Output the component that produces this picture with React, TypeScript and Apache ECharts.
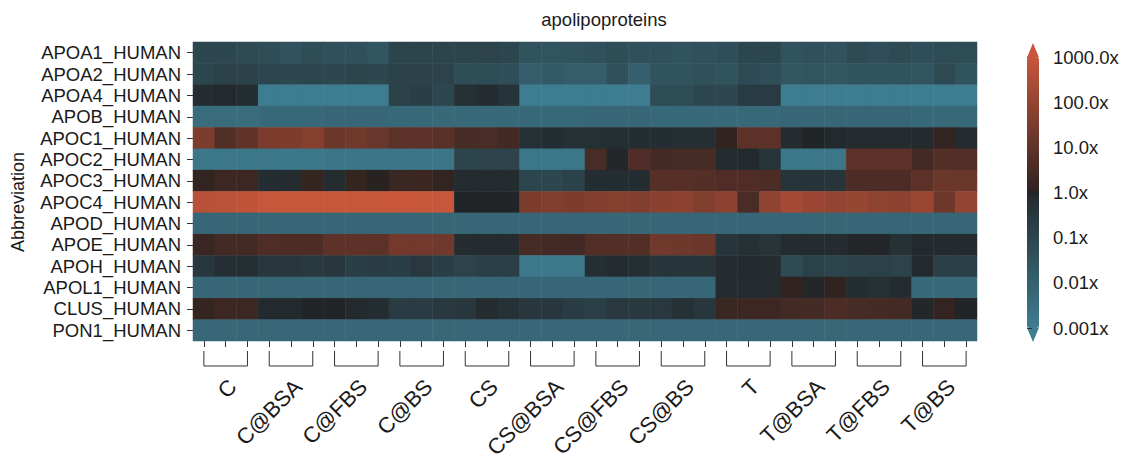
import React, { useEffect, useRef } from "react";
import * as echarts from "echarts";

// ---------- data ----------
const groups = ["C", "C@BSA", "C@FBS", "C@BS", "CS", "CS@BSA", "CS@FBS", "CS@BS", "T", "T@BSA", "T@FBS", "T@BS"];
const replicates = ["1", "2", "3"];
const columns = groups.flatMap((g) => replicates.map((r) => `${g}_${r}`));

const proteins = [
  "APOA1_HUMAN", "APOA2_HUMAN", "APOA4_HUMAN", "APOB_HUMAN", "APOC1_HUMAN", "APOC2_HUMAN", "APOC3_HUMAN",
  "APOC4_HUMAN", "APOD_HUMAN", "APOE_HUMAN", "APOH_HUMAN", "APOL1_HUMAN", "CLUS_HUMAN", "PON1_HUMAN",
];

// log10 fold change, one value per column (12 groups x 3 replicates)
const APOA1 = [-1.1, -1.1, -1.2, -1.3, -1.5, -1.3, -1.4, -1.45, -1.6, -1.0, -1.0, -1.0, -1.0, -0.95, -1.05, -1.5, -1.55, -1.5, -1.4, -1.3, -1.4, -1.4, -1.5, -1.45, -1.35, -1.05, -1.05, -1.5, -1.4, -1.5, -1.2, -1.35, -1.2, -1.35, -1.25, -1.25];
const APOA2 = [-1.05, -0.85, -0.9, -1.05, -1.1, -1.05, -1.1, -1.0, -1.1, -0.9, -0.9, -0.95, -1.3, -1.25, -1.35, -1.85, -1.75, -1.85, -1.85, -1.4, -1.95, -1.5, -1.5, -1.45, -1.5, -1.2, -1.35, -1.65, -1.55, -1.65, -1.5, -1.5, -1.5, -1.55, -1.15, -1.5];
const APOA4 = [-0.15, -0.05, -0.15, -3, -3, -3, -3, -3, -3, -0.9, -0.75, -1.1, -0.25, -0.1, -0.35, -3, -3, -3, -3, -3, -3, -1.25, -1.3, -1.1, -1.1, -0.65, -0.65, -3, -3, -3, -3, -3, -3, -3, -3, -3];
const APOB = [-2.45, -2.45, -2.45, -2.3, -2.3, -2.3, -2.25, -2.25, -2.25, -2.3, -2.3, -2.3, -2.3, -2.3, -2.3, -2.3, -2.3, -2.3, -2.25, -2.25, -2.25, -2.3, -2.3, -2.3, -2.3, -2.3, -2.3, -2.25, -2.25, -2.25, -2.25, -2.25, -2.25, -2.3, -2.3, -2.3];
const APOC1 = [1.55, 0.7, 1.0, 1.5, 1.55, 1.7, 1.2, 1.3, 1.15, 0.9, 0.9, 0.85, 0.5, 0.55, 0.4, -0.25, -0.15, -0.3, -0.25, -0.2, -0.15, -0.15, -0.2, -0.2, 0.05, 0.9, 0.9, -0.1, -0.02, -0.05, -0.12, -0.12, -0.12, -0.07, 0.1, -0.1];
const APOC2 = [-2.8, -2.8, -2.8, -2.8, -2.8, -2.8, -2.75, -2.75, -2.75, -2.75, -2.75, -2.75, -1.0, -0.95, -0.95, -2.8, -2.8, -2.8, 0.55, -0.03, 0.65, 0.45, 0.5, 0.5, -0.1, -0.05, -0.4, -2.8, -2.8, -2.8, 0.9, 0.9, 0.9, 0.45, 0.75, 0.7];
const APOC3 = [0.1, 0.28, 0.28, -0.15, -0.1, 0.15, -0.12, 0.15, 0.02, 0.25, 0.27, 0.08, -0.12, -0.1, -0.12, -1.05, -1.1, -0.9, -0.15, -0.15, -0.15, 0.8, 0.8, 0.75, 0.65, 0.65, 0.6, -0.4, -0.35, -0.4, 0.6, 0.6, 0.6, 0.9, 1.2, 1.2];
const APOC4 = [2.7, 2.75, 2.85, 3, 3, 3, 3, 3, 3, 3, 3, 3, -0.02, -0.02, -0.02, 1.55, 1.6, 1.55, 1.65, 1.7, 1.65, 1.8, 1.85, 1.6, 1.85, 0.55, 1.9, 2.3, 2.1, 2.0, 2.05, 1.9, 1.85, 2.1, 1.25, 2.0];
const APOD = [-2.25, -2.25, -2.25, -2.25, -2.25, -2.25, -2.25, -2.25, -2.25, -2.25, -2.25, -2.25, -2.25, -2.25, -2.25, -2.25, -2.25, -2.25, -2.25, -2.25, -2.25, -2.25, -2.25, -2.25, -2.25, -2.25, -2.25, -2.25, -2.25, -2.25, -2.25, -2.25, -2.25, -2.25, -2.25, -2.25];
const APOE = [0.25, 0.45, 0.45, 0.65, 0.6, 0.6, 0.95, 0.95, 0.9, 1.35, 1.35, 1.3, -0.1, -0.1, -0.1, 0.5, 0.45, 0.4, 0.7, 0.75, 0.7, 1.3, 1.25, 1.2, -0.45, -0.25, -0.4, -0.1, -0.1, -0.12, -0.03, -0.03, -0.3, -0.05, -0.07, -0.07];
const APOH = [-0.5, -0.2, -0.2, -0.5, -0.5, -0.6, -0.5, -0.75, -0.7, -0.75, -0.55, -0.75, -0.95, -0.8, -0.8, -2.85, -2.85, -2.85, -0.2, -0.12, -0.22, -0.45, -0.45, -0.45, -0.1, -0.07, -0.1, -1.2, -0.85, -1.0, -0.9, -0.85, -0.95, -0.05, -0.8, -0.8];
const APOL1 = [-2.25, -2.25, -2.25, -2.25, -2.25, -2.25, -2.25, -2.25, -2.25, -2.25, -2.25, -2.25, -2.25, -2.25, -2.25, -2.25, -2.25, -2.25, -2.25, -2.25, -2.25, -2.25, -2.25, -2.25, -0.12, -0.1, -0.1, 0.07, -0.03, 0.07, -0.15, -0.28, -0.1, -2.3, -2.3, -2.3];
const CLUS = [0.15, 0.3, 0.3, -0.05, -0.05, -0.02, -0.02, -0.05, -0.15, -0.7, -0.7, -0.6, -0.5, -0.12, -0.3, -0.5, -0.5, -0.7, -0.78, -0.55, -0.6, -0.55, -0.3, -0.5, 0.25, 0.3, 0.32, 0.45, 0.48, 0.62, 0.5, 0.48, 0.45, -0.03, 0.12, -0.02];
const PON1 = [-2.28, -2.28, -2.28, -2.28, -2.28, -2.28, -2.28, -2.28, -2.28, -2.28, -2.28, -2.28, -2.28, -2.28, -2.28, -2.28, -2.28, -2.28, -2.28, -2.28, -2.28, -2.28, -2.28, -2.28, -2.28, -2.28, -2.28, -2.28, -2.28, -2.28, -2.28, -2.28, -2.28, -2.28, -2.28, -2.28];

const rows = [APOA1, APOA2, APOA4, APOB, APOC1, APOC2, APOC3, APOC4, APOD, APOE, APOH, APOL1, CLUS, PON1];

const colorbarTicks = [-3, -2, -1, 0, 1, 2, 3];
const colorbarTickLabels = ["0.001x", "0.01x", "0.1x", "1.0x", "10.0x", "100.0x", "1000.0x"];

// ---------- style ----------
const FONT = '"Liberation Sans", Arial, Helvetica, sans-serif';
const TEXT = "#1a1a1a";
const LINE = "#333333";
const GRID = { left: 193, top: 42, width: 784, height: 299 };
const CB = { left: 1027, top: 57, width: 12, height: 271 };
const XLABEL_SIZE = 22;
const XLABEL_ANCHOR_Y = 383;
const XLABEL_SHIFT = 7;

const TEAL = [62, 124, 144];
const GRAY_T = [35, 41, 44];
const MID = [34, 34, 34];
const GRAY_R = [45, 34, 32];
const ORANGE = [200, 86, 59];

function mix(a: number[], b: number[], t: number) {
  const c = a.map((v, i) => Math.round(v + (b[i] - v) * t));
  return `rgb(${c[0]},${c[1]},${c[2]})`;
}
function cmapAt(t: number) {
  if (Math.abs(t - 0.5) < 1e-9) return mix(MID, MID, 0);
  if (t < 0.5) return mix(TEAL, GRAY_T, t / 0.5);
  return mix(GRAY_R, ORANGE, (t - 0.5) / 0.5);
}
const cmap: string[] = [];
for (let i = 0; i <= 120; i++) cmap.push(cmapAt(i / 120));

export default function App() {
  const ref = useRef<HTMLDivElement>(null);
  useEffect(() => {
    document.body.style.margin = "0";
    const chart = echarts.init(ref.current!, null, { renderer: "svg" });
    const data: number[][] = [];
    rows.forEach((row, r) => row.forEach((v, c) => data.push([c, r, v])));

    chart.setOption({
      animation: false,
      title: {
        text: "apolipoproteins",
        left: 604,
        top: 10,
        textAlign: "center",
        padding: 0,
        textStyle: { fontFamily: FONT, fontSize: 18.5, fontWeight: "normal", color: TEXT },
      },
      grid: [
        { ...GRID },
        { left: CB.left, top: CB.top, width: CB.width, height: CB.height },
      ],
      xAxis: [
        {
          type: "category",
          data: columns,
          gridIndex: 0,
          axisLine: { show: false },
          axisTick: { show: true, alignWithLabel: true, interval: 0, length: 6, lineStyle: { color: LINE } },
          axisLabel: { show: false, interval: 0 },
          splitLine: { show: false },
        },
        { type: "value", gridIndex: 1, show: false, min: 0, max: 1 },
      ],
      yAxis: [
        {
          type: "category",
          data: proteins,
          inverse: true,
          gridIndex: 0,
          axisLine: { show: false },
          axisTick: { show: true, alignWithLabel: true, interval: 0, length: 6, lineStyle: { color: LINE } },
          axisLabel: { interval: 0, margin: 12, fontFamily: FONT, fontSize: 18.5, color: TEXT },
          splitLine: { show: false },
        },
        {
          type: "value",
          gridIndex: 1,
          min: -3,
          max: 3,
          interval: 1,
          position: "right",
          axisLine: { show: false },
          axisTick: { show: true, length: 5, lineStyle: { color: LINE } },
          axisLabel: {
            margin: 14,
            fontFamily: FONT,
            fontSize: 18.5,
            color: TEXT,
            formatter: (v: number) => colorbarTickLabels[colorbarTicks.indexOf(Math.round(v))] ?? "",
          },
          splitLine: { show: false },
        },
      ],
      visualMap: {
        type: "continuous",
        min: -3,
        max: 3,
        seriesIndex: 0,
        calculable: false,
        hoverLink: false,
        orient: "vertical",
        left: CB.left,
        top: CB.top,
        itemWidth: CB.width,
        itemHeight: CB.height,
        padding: 0,
        inRange: { color: cmap },
      },
      series: [
        {
          type: "heatmap",
          xAxisIndex: 0,
          yAxisIndex: 0,
          data,
          itemStyle: { borderWidth: 0 },
          emphasis: { disabled: true },
          progressive: 0,
        },
        { type: "scatter", xAxisIndex: 1, yAxisIndex: 1, data: [], silent: true },
      ],
    });

    const yBottom = GRID.top + GRID.height;
    const graphics: any[] = [];
    groups.forEach((g, gi) => {
      const x0 = chart.convertToPixel({ xAxisIndex: 0 } as any, gi * 3) as number;
      const x1 = chart.convertToPixel({ xAxisIndex: 0 } as any, gi * 3 + 1) as number;
      const x2 = chart.convertToPixel({ xAxisIndex: 0 } as any, gi * 3 + 2) as number;
      graphics.push({
        type: "polyline",
        shape: { points: [[x0, yBottom + 10], [x0, yBottom + 25], [x2, yBottom + 25], [x2, yBottom + 10]] },
        style: { stroke: LINE, lineWidth: 1, fill: null },
      });
      graphics.push({
        type: "text",
        x: x1 + XLABEL_SHIFT,
        y: XLABEL_ANCHOR_Y,
        rotation: Math.PI / 4,
        style: {
          text: g,
          fontFamily: FONT,
          fontSize: XLABEL_SIZE,
          fill: TEXT,
          align: "right",
          verticalAlign: "middle",
          textAlign: "right",
          textVerticalAlign: "middle",
        },
      });
    });
    graphics.push({
      type: "text",
      x: 18,
      y: 202,
      rotation: Math.PI / 2,
      style: {
        text: "Abbreviation",
        fontFamily: FONT,
        fontSize: 18,
        fill: TEXT,
        align: "center",
        verticalAlign: "middle",
        textAlign: "center",
        textVerticalAlign: "middle",
      },
    });
    const cx = CB.left + CB.width / 2;
    graphics.push({
      type: "polygon",
      shape: { points: [[CB.left, CB.top + 0.5], [CB.left + CB.width, CB.top + 0.5], [cx, CB.top - 14]] },
      style: { fill: cmap[cmap.length - 1] },
    });
    graphics.push({
      type: "polygon",
      shape: { points: [[CB.left, CB.top + CB.height - 0.5], [CB.left + CB.width, CB.top + CB.height - 0.5], [cx, CB.top + CB.height + 14]] },
      style: { fill: cmap[0] },
    });
    chart.setOption({ graphic: graphics });

    return () => chart.dispose();
  }, []);
  return <div ref={ref} style={{ width: 1127, height: 463 }} />;
}
